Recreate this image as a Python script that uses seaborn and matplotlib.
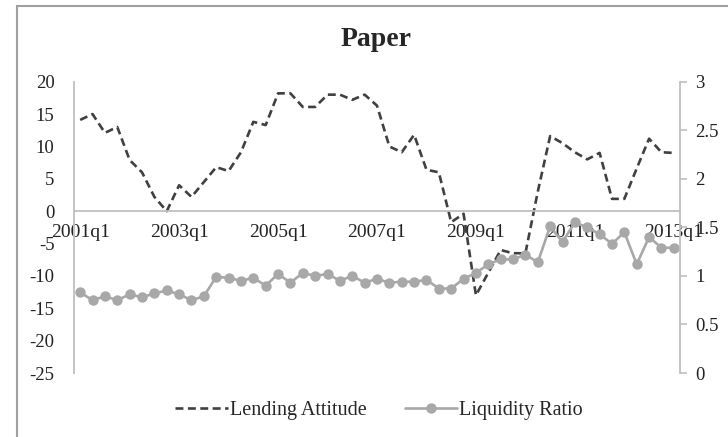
import pandas as pd
import seaborn as sns
import numpy as np
import matplotlib.pyplot as plt
from matplotlib.patches import Rectangle

# quarterly series 2001q1 .. 2013q1 (49 quarters)
quarter_idx = list(range(49))
tick_pos = [0, 8, 16, 24, 32, 40, 48]
tick_labels = ['2001q1', '2003q1', '2005q1', '2007q1', '2009q1', '2011q1', '2013q1']

lending = [14.1, 15.0, 12.1, 13.0, 7.9, 6.0, 2.2, 0.0, 4.0, 2.2,
           4.5, 6.8, 6.2, 9.1, 13.8, 13.3, 18.2, 18.2, 16.1, 16.1,
           18.0, 18.0, 17.2, 18.0, 16.3, 10.0, 9.1, 11.8, 6.4, 6.0,
           -1.7, -0.4, -13.0, -9.5, -6.0, -6.5, -6.5, 3.0, 11.6, 10.5,
           9.1, 8.0, 9.0, 1.9, 1.9, 6.6, 11.2, 9.1, 9.0]

liquidity = [0.83, 0.75, 0.79, 0.75, 0.81, 0.78, 0.82, 0.85, 0.81, 0.75,
             0.79, 0.99, 0.98, 0.95, 0.98, 0.90, 1.02, 0.93, 1.03, 1.00,
             1.02, 0.95, 1.00, 0.93, 0.97, 0.93, 0.94, 0.94, 0.96, 0.87,
             0.87, 0.97, 1.03, 1.12, 1.17, 1.17, 1.22, 1.14, 1.51, 1.35,
             1.55, 1.50, 1.43, 1.33, 1.45, 1.12, 1.40, 1.29, 1.29]

data = pd.DataFrame({'q': quarter_idx, 'Lending Attitude': lending, 'Liquidity Ratio': liquidity})

sns.set_theme(style="white")
plt.rcParams['font.family'] = ['Liberation Serif', 'DejaVu Serif']
plt.rcParams['axes.unicode_minus'] = False

fig = plt.figure(figsize=(7.28, 4.37), dpi=100)
ax = fig.add_axes([74/728, 1-373/437, 606/728, 291.3/437])
ax2 = ax.twinx()

axis_grey = '#bfbfbf'
dark = '#404040'
light = '#a8a8a8'

sns.lineplot(data=data, x='q', y='Lending Attitude', ax=ax, color=dark, linewidth=1.9,
             ls=(0, (3.0, 1.7)), label='Lending Attitude', legend=False)
sns.lineplot(data=data, x='q', y='Liquidity Ratio', ax=ax2, color=light, linewidth=1.9,
             marker='o', markersize=7.5, markeredgewidth=0, label='Liquidity Ratio', legend=False)

# left axis
ax.set_xlim(-0.5, 48.5)
ax.set_ylim(-25, 20)
ax.set_yticks(np.arange(-25, 21, 5))
ax.set_xticks(tick_pos)
ax.set_xticklabels(tick_labels)
ax.set(xlabel=None, ylabel=None)
ax.spines['top'].set_visible(False)
ax.spines['right'].set_visible(False)
ax.spines['left'].set_color(axis_grey)
ax.spines['left'].set_linewidth(1.3)
ax.spines['bottom'].set_position(('data', 0))
ax.spines['bottom'].set_color(axis_grey)
ax.spines['bottom'].set_linewidth(1.3)
ax.tick_params(axis='y', length=0, pad=14, labelsize=13.5, colors='#222222')
ax.tick_params(axis='x', length=0, pad=9, labelsize=14, colors='#222222')

# right axis
ax2.set_ylim(0, 3)
ax2.set_yticks([0, 0.5, 1, 1.5, 2, 2.5, 3])
ax2.set_yticklabels(['0', '0.5', '1', '1.5', '2', '2.5', '3'])
ax2.set(ylabel=None)
for s in ['top', 'left', 'bottom']:
    ax2.spines[s].set_visible(False)
ax2.spines['right'].set_color(axis_grey)
ax2.spines['right'].set_linewidth(1.3)
ax2.tick_params(axis='y', direction='out', length=5, width=1.2, color=axis_grey,
                pad=6, labelsize=13.5, colors='#222222')
ax2.tick_params(axis='y', colors=axis_grey, labelcolor='#222222')

fig.text(376/728, 1-40/437, 'Paper', ha='center', va='center', fontsize=20, fontweight='bold')

h1, l1 = ax.get_legend_handles_labels()
h2, l2 = ax2.get_legend_handles_labels()
fig.legend(h1 + h2, l1 + l2, loc='center', bbox_to_anchor=(379/728, 1-410/437), ncol=2,
           frameon=False, fontsize=14.5, handlelength=2.6, handletextpad=0.1, columnspacing=1.9)

# chart area border (cropped on right/bottom)
fig.patches.append(Rectangle((17/728, -0.2), 1.2, 0.2 + 1-6/437, transform=fig.transFigure,
                             fill=False, edgecolor='#a0a0a0', linewidth=1.5))

fig.savefig('out.png', dpi=100)
